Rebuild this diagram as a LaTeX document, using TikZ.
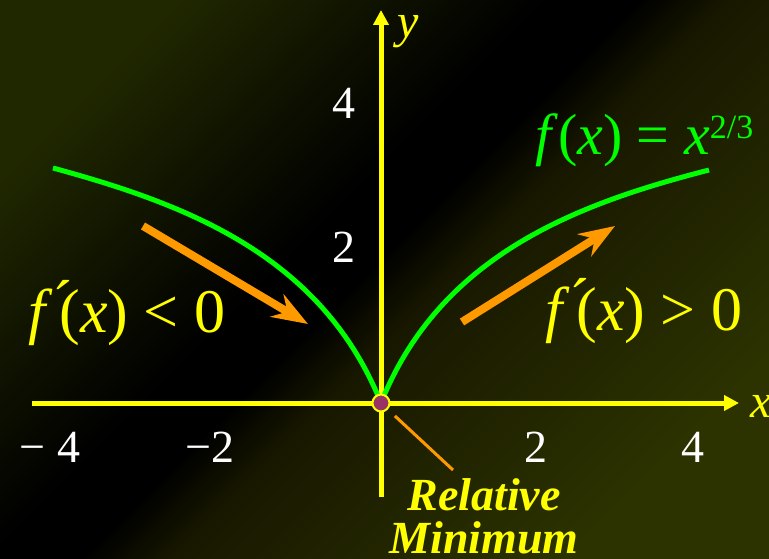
\documentclass[tikz,border=0pt]{standalone}
\usepackage{fontspec}
\setmainfont{Liberation Serif}
\usetikzlibrary{arrows.meta}

\definecolor{axisyellow}{RGB}{255,255,0}
\definecolor{curvegreen}{RGB}{0,255,0}
\definecolor{slopeorange}{RGB}{255,153,0}
\definecolor{dotpurple}{RGB}{153,51,102}
\definecolor{olivetl}{RGB}{32,40,0}
\definecolor{olivebr}{RGB}{44,51,0}
\definecolor{olivemid}{RGB}{24,24,0}

\pgfdeclareverticalshading{slidebg}{100bp}{color(0bp)=(olivebr); color(30bp)=(olivebr);
  color(45bp)=(olivemid); color(48.5bp)=(black); color(52bp)=(black);
  color(66bp)=(olivetl); color(100bp)=(olivetl)}

\begin{document}
\begin{tikzpicture}[
  x=1pt, y=-1pt,
  axis/.style={axisyellow, line width=5pt, -{Triangle[length=15pt,width=15pt]}},
  curve/.style={curvegreen, line width=5pt},
  slope/.style={slopeorange, line width=8pt, -{Stealth[length=36pt,width=26pt,inset=12pt]}},
  pointer/.style={slopeorange, line width=3pt, shorten <=19pt},
  mindot/.style={circle, fill=dotpurple, draw=axisyellow, line width=2pt,
                 minimum size=17pt, inner sep=0pt},
  ticklab/.style={white, font=\fontsize{46}{48}\selectfont, anchor=base, inner sep=0pt},
  axislab/.style={axisyellow, font=\fontsize{48}{50}\selectfont\itshape,
                  anchor=base west, inner sep=0pt},
  slopelab/.style={axisyellow, font=\fontsize{62}{64}\selectfont,
                   anchor=base west, inner sep=0pt},
  funclab/.style={curvegreen, font=\fontsize{58}{60}\selectfont,
                  anchor=base west, inner sep=0pt},
  minlab/.style={axisyellow, font=\fontsize{46}{43}\selectfont\bfseries\itshape,
                 align=center, anchor=north, inner sep=0pt}
]

% --- slide background ---
\useasboundingbox (0,0) rectangle (769,559);
\shade[shading=slidebg, shading angle=45] (-169,-169) rectangle (769,769);

% --- axes ---
\coordinate (O) at (381,403);
\draw[axis] (32,403) -- (739,403);
\draw[axis] (381,497) -- (381,10);
\node[axislab] (xlab) at (750,417) {x};
\node[axislab] (ylab) at (397,38) {y};

% --- tick labels ---
\node[ticklab] (xm4) at (50,462) {− 4};
\node[ticklab] (xm2) at (210,462) {−2};
\node[ticklab] (xp2) at (536,462) {2};
\node[ticklab] (xp4) at (693,462) {4};
\node[ticklab] (yp2) at (344,262) {2};
\node[ticklab] (yp4) at (344,119) {4};

% --- the curve ---
\draw[curve] (53,168) .. controls (181,203) and (321,253) .. (O)
  .. controls (441,253) and (581,203) .. (709,170);
\node[funclab] (func) at (535,155)
  {\textit{f}(\textit{x}) = \textit{x}\raisebox{17pt}{\fontsize{34}{34}\selectfont 2/3}};

% --- slope arrows ---
\coordinate (decrtail) at (143,226);
\coordinate (decrtip) at (308,324);
\coordinate (incrtail) at (462,322);
\coordinate (incrtip) at (615,226);
\draw[slope] (decrtail) -- (decrtip);
\draw[slope] (incrtail) -- (incrtip);
\node[slopelab] (decr) at (28,332)
  {\textit{f}\raisebox{9pt}{´}\kern-.22em(\textit{x}) < 0};
\node[slopelab] (incr) at (545,330)
  {\textit{f}\raisebox{9pt}{´}\kern-.22em(\textit{x}) > 0};

% --- relative minimum ---
\node[mindot] (minpt) at (O) {};
\node[minlab] (relmin) at (484,478) {Relative\\Minimum};
\coordinate (ptrend) at (453,470);
\draw[pointer] (minpt.center) -- (ptrend);

\end{tikzpicture}
\end{document}
